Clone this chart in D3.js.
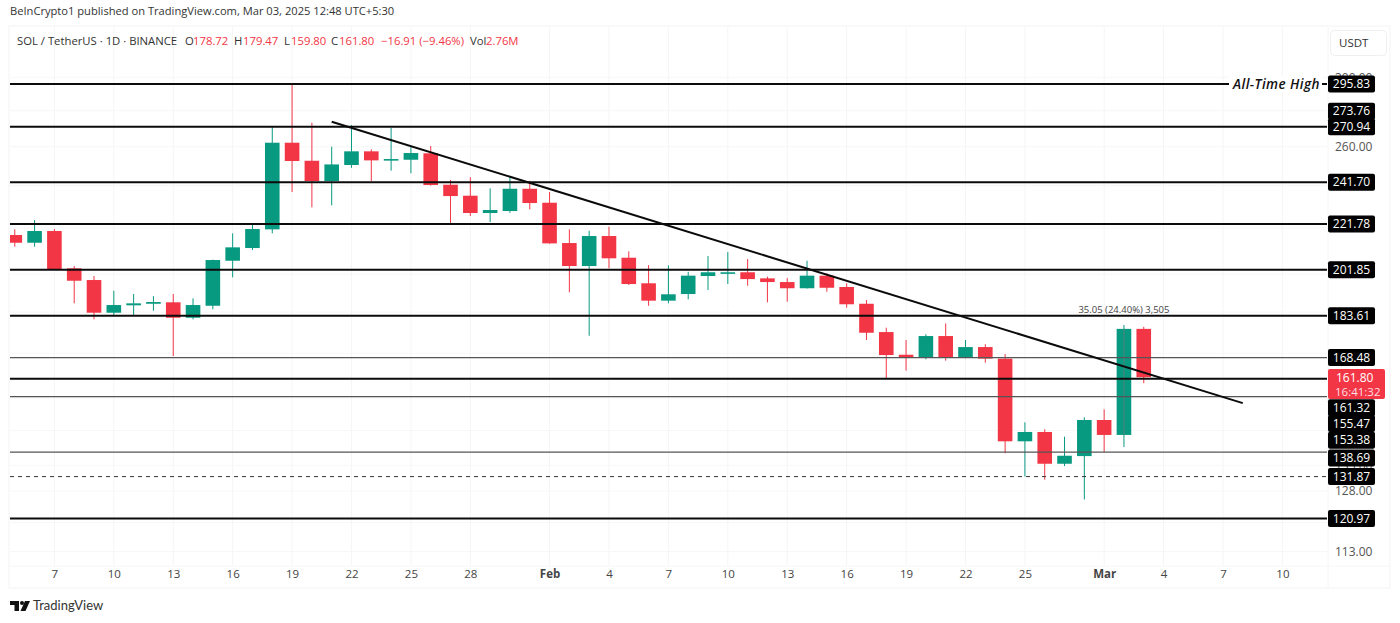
<!DOCTYPE html>
<html><head><meta charset="utf-8">
<script src="https://cdnjs.cloudflare.com/ajax/libs/d3/7.9.0/d3.min.js"></script>
<style>html,body{margin:0;padding:0;background:#fff}svg{display:block}text{font-family:"Open Sans","Noto Sans",sans-serif}</style>
</head><body><svg id="c" width="1400" height="623"></svg>
<script>
const dates=["2025-01-05","2025-01-06","2025-01-07","2025-01-08","2025-01-09","2025-01-10","2025-01-11","2025-01-12","2025-01-13","2025-01-14","2025-01-15","2025-01-16","2025-01-17","2025-01-18","2025-01-19","2025-01-20","2025-01-21","2025-01-22","2025-01-23","2025-01-24","2025-01-25","2025-01-26","2025-01-27","2025-01-28","2025-01-29","2025-01-30","2025-01-31","2025-02-01","2025-02-02","2025-02-03","2025-02-04","2025-02-05","2025-02-06","2025-02-07","2025-02-08","2025-02-09","2025-02-10","2025-02-11","2025-02-12","2025-02-13","2025-02-14","2025-02-15","2025-02-16","2025-02-17","2025-02-18","2025-02-19","2025-02-20","2025-02-21","2025-02-22","2025-02-23","2025-02-24","2025-02-25","2025-02-26","2025-02-27","2025-02-28","2025-03-01","2025-03-02","2025-03-03"];
const opens=[216.8,213.38,218.59,202.43,197.62,184.76,187.6,188.2,188.76,182.86,187.43,205.62,211.07,219.35,262.15,252.6,242.28,250.4,257.55,253.13,253.13,256.5,240.45,235.07,226.85,227.77,238.45,231.7,213.25,203.4,216.35,206.9,196.3,189.4,192,199.26,200.5,200.8,198.3,196.8,194.3,199.4,194.8,188.2,177.55,169.45,168.55,176.1,168.55,172.15,168.1,141.8,144.55,135.4,137.55,148.15,143.67,178.72];
const highs=[219.35,223.59,219.49,203.38,199.26,193.3,192,191.2,192,190.3,206.1,217.55,221.75,270.9,295.83,273.15,260,271.85,258.6,270.2,260,260.4,242.78,244.15,238.65,244.15,242.4,236.85,219.35,218.7,220.55,209.6,203.8,203.7,201,207.65,209.3,206.35,199,198.4,205.6,200.4,196.3,189.65,179.15,174.67,176.75,180.75,174.67,173.15,169.7,147.45,145.35,143.15,148.97,151.45,180.15,179.47];
const lows=[211.63,211.63,202,188.36,182.26,183.87,183.87,185.5,169,182.26,186.06,198.7,210.2,217.55,236.85,229.5,230.45,249,242.28,247.47,246.15,240,221.3,225.45,222.65,226.97,228.57,213,192.7,176.2,202.43,195.6,187.4,188.35,189.9,193.6,196,195.3,188.75,189,194.2,192.9,186.7,174.67,161.2,164,167.85,167.4,168.2,166.7,138.35,131.9,131.03,134.75,125.8,138.7,140.15,159.8];
const closes=[213.38,218.59,202.15,197.33,184.76,187.7,188.36,188.87,182.86,187.7,205.92,211.37,219.49,262.15,252.46,242.28,250.7,257.55,252.8,253.5,256.65,240.3,234.9,226.85,228.24,238.45,231.55,213.1,203.4,216.35,206.65,196,189.4,191.9,199.4,200.8,200.8,198,196.8,194.3,199.4,194.5,188,177.3,169.35,168.55,176.1,168.55,172.15,168.1,141.8,144.55,135.4,137.65,148.15,143.67,178.72,161.8];
const solidLevels=[295.83,270.94,241.70,221.78,201.85,183.61,161.32,120.97];
const thinLevels=[168.48,155.47,138.69];
const dashedLevels=[131.87];
const trendDates=["2025-01-21","2025-03-08"];
const trendPrices=[273.76,153.38];
const priceTicks=[300,260,170,135,128,113];
const dayTicks=["2025-01-07","2025-01-10","2025-01-13","2025-01-16","2025-01-19","2025-01-22","2025-01-25","2025-01-28","2025-02-01","2025-02-04","2025-02-07","2025-02-10","2025-02-13","2025-02-16","2025-02-19","2025-02-22","2025-02-25","2025-03-01","2025-03-04","2025-03-07","2025-03-10"];
const boxedPrices=[295.83,273.76,270.94,241.70,221.78,201.85,183.61,168.48,161.32,155.47,153.38,138.69,131.87,120.97];

// label de-collision, as the price axis does it (pixels)
const labelNudge={273.76:-10.5,161.32:29,155.47:27,153.38:37,138.69:6};

const parse=d3.utcParse("%Y-%m-%d");
const GREEN="#089981",RED="#F23645",INK="#0b0b0b";
const pane={l:10,r:1327,t:27,b:565};
const x=d3.scaleUtc().domain([parse("2025-01-07"),parse("2025-03-10")]).range([54.4,1282.4]);
const y=d3.scaleLog().domain([120.97,295.83]).range([518.5,84]);
const svg=d3.select("#c");

svg.append("defs").append("clipPath").attr("id","pane").append("rect")
  .attr("x",pane.l).attr("y",pane.t).attr("width",pane.r-pane.l).attr("height",pane.b-pane.t);

svg.append("rect").attr("x",pane.l-1).attr("y",pane.t-1).attr("width",1381).attr("height",562)
  .attr("fill","#fff").attr("stroke","#f3f3f3");
svg.append("line").attr("x1",pane.r+1).attr("x2",pane.r+1).attr("y1",pane.t).attr("y2",588).attr("stroke","#f6f6f6");
svg.append("line").attr("x1",pane.l).attr("x2",1390).attr("y1",pane.b+1).attr("y2",pane.b+1).attr("stroke","#f6f6f6");

svg.append("text").attr("x",10).attr("y",15).attr("font-size",11.15).attr("fill","#333")
  .text("BeInCrypto1 published on TradingView.com, Mar 03, 2025 12:48 UTC+5:30");

// grid
const grid=svg.append("g");
grid.selectAll(".v").data(dayTicks).join("line").attr("x1",d=>x(parse(d))).attr("x2",d=>x(parse(d)))
  .attr("y1",pane.t).attr("y2",pane.b).attr("stroke","#f5f5f5");
grid.selectAll(".h").data(priceTicks.concat([280,240,220,200,185,155,145,120])).join("line").attr("x1",pane.l).attr("x2",pane.r)
  .attr("y1",d=>y(d)).attr("y2",d=>y(d)).attr("stroke","#f7f7f7");

// candles
const candles=svg.append("g").attr("clip-path","url(#pane)");
const idx=d3.range(dates.length);
const col=i=>closes[i]>=opens[i]?GREEN:RED;
const px=i=>x(parse(dates[i]));
candles.selectAll(".w").data(idx).join("line")
  .attr("x1",px).attr("x2",px).attr("y1",i=>y(highs[i])).attr("y2",i=>y(lows[i]))
  .attr("stroke",col).attr("stroke-width",1);
candles.selectAll(".b").data(idx).join("rect")
  .attr("x",i=>px(i)-7.3).attr("width",14.6)
  .attr("y",i=>y(Math.max(opens[i],closes[i])))
  .attr("height",i=>Math.max(1.6,Math.abs(y(opens[i])-y(closes[i]))))
  .attr("fill",col);

// measure note
const mi=dates.indexOf("2025-03-02");
svg.append("line").attr("x1",px(mi)).attr("x2",px(mi)).attr("y1",y(closes[mi])).attr("y2",y(opens[mi])).attr("stroke","#777").attr("stroke-width",1).attr("opacity",.7);
svg.append("text").attr("x",px(mi)).attr("y",313).attr("text-anchor","middle").attr("font-size",9.5).attr("fill","#444").text("35.05 (24.40%) 3,505");

// levels
const levels=svg.append("g");
levels.selectAll(".s").data(solidLevels).join("line").attr("x1",pane.l).attr("x2",pane.r)
  .attr("y1",d=>y(d)).attr("y2",d=>y(d)).attr("stroke",INK).attr("stroke-width",2);
levels.selectAll(".t").data(thinLevels).join("line").attr("x1",pane.l).attr("x2",pane.r)
  .attr("y1",d=>y(d)).attr("y2",d=>y(d)).attr("stroke","#555").attr("stroke-width",1.2);
levels.selectAll(".d").data(dashedLevels).join("line").attr("x1",pane.l).attr("x2",pane.r)
  .attr("y1",d=>y(d)).attr("y2",d=>y(d)).attr("stroke","#333").attr("stroke-width",1).attr("stroke-dasharray","4 4");
svg.append("line").attr("x1",x(parse(trendDates[0]))).attr("x2",x(parse(trendDates[1])))
  .attr("y1",y(trendPrices[0])).attr("y2",y(trendPrices[1])).attr("stroke",INK).attr("stroke-width",2);

// all-time high tag
svg.append("rect").attr("x",1229).attr("y",y(295.83)-8).attr("width",93).attr("height",16).attr("fill","#fff");
svg.append("text").attr("x",1233).attr("y",y(295.83)+4.5).attr("font-size",13.5).attr("font-style","italic").attr("font-weight",600)
  .attr("fill","#111").style("letter-spacing","0.45px").text("All-Time High");

// axes
const yAxis=d3.axisRight(y).tickValues(priceTicks).tickFormat(d3.format(".2f")).tickSize(0).tickPadding(0);
const gy=svg.append("g").attr("transform","translate(1335,0)").call(yAxis);
gy.select(".domain").remove();
gy.selectAll("text").attr("font-size",12).attr("fill","#555").style("font-family",'"Open Sans",sans-serif');
const fmtTick=d=>{const m=d.getUTCMonth(),day=d.getUTCDate();return day===1?["Jan","Feb","Mar"][m]:String(day)};
const xAxis=d3.axisBottom(x).tickValues(dayTicks.map(parse)).tickFormat(fmtTick).tickSize(0).tickPadding(0);
const gx=svg.append("g").attr("transform","translate(0,570)").call(xAxis);
gx.select(".domain").remove();
gx.selectAll("text").attr("font-size",11.5).attr("fill","#444").style("font-family",'"Open Sans",sans-serif')
  .attr("font-weight",d=>d.getUTCDate()===1?700:400);

// price labels
const tags=svg.append("g");
const tagY=d=>y(d)+(labelNudge[d]||0);
tags.selectAll("rect").data(boxedPrices).join("rect").attr("x",1328).attr("width",47)
  .attr("y",d=>tagY(d)-8.5).attr("height",17).attr("rx",2).attr("fill","#000");
tags.selectAll("text").data(boxedPrices).join("text").attr("x",1351.5).attr("y",d=>tagY(d)+4.3)
  .attr("text-anchor","middle").attr("font-size",12).attr("fill","#fff").text(d=>d3.format(".2f")(d));
svg.append("rect").attr("x",1328).attr("y",369).attr("width",57).attr("height",30).attr("rx",2).attr("fill",RED);
svg.append("text").attr("x",1336).attr("y",382).attr("font-size",12).attr("fill","#fff").text(d3.format(".2f")(closes[closes.length-1]));
svg.append("text").attr("x",1335).attr("y",396).attr("font-size",11.5).attr("fill","#ffdfe2").text("16:41:32");

// legend
const L=[[17,"SOL / TetherUS · 1D · BINANCE","#333"],[185,"O","#333"],[193,"178.72",RED],[234,"H","#333"],[243,"179.47",RED],[284,"L","#333"],[291,"159.80",RED],[331,"C","#333"],[339,"161.80",RED],[381,"−16.91 (−9.46%)",RED],[470,"Vol","#333"],[486,"2.76M",RED]];
svg.append("g").selectAll("text").data(L).join("text").attr("x",d=>d[0]).attr("y",45).attr("font-size",11.3).attr("fill",d=>d[2]).text(d=>d[1]);

// currency button
svg.append("rect").attr("x",1330.5).attr("y",30.5).attr("width",56).attr("height",25).attr("rx",4).attr("fill","#fff").attr("stroke","#efefef");
svg.append("text").attr("x",1339).attr("y",47).attr("font-size",11.5).attr("fill","#333").text("USDT");

// footer logo
const logo=svg.append("g").attr("fill","#111");
logo.append("path").attr("d","M10 601H19V611H14.5V605H10Z");
logo.append("circle").attr("cx",22).attr("cy",603).attr("r",2);
logo.append("path").attr("d","M25 601H30L25.5 611H20.5Z");
svg.append("text").attr("x",33).attr("y",610).attr("font-size",13).style("font-family","Lato,sans-serif").attr("fill","#333").text("TradingView");
</script></body></html>
